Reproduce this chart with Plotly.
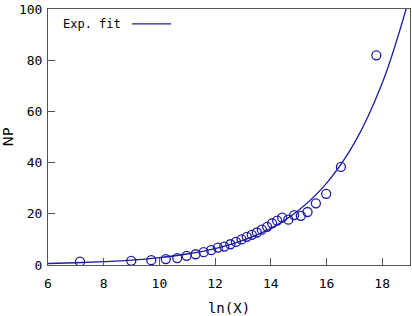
import plotly.graph_objects as go

# measured points (ln(X), NP)
ln_x = [7.15, 8.99, 9.71, 10.23, 10.64, 10.98, 11.30, 11.59, 11.86, 12.10,
        12.33, 12.55, 12.75, 12.95, 13.14, 13.32, 13.50, 13.68, 13.87, 14.05,
        14.23, 14.41, 14.63, 14.84, 15.08, 15.32, 15.62, 15.99, 16.52, 17.79]
np_vals = [1.3, 1.65, 1.9, 2.3, 2.7, 3.6, 4.2, 5.0, 5.8, 6.8,
           7.2, 8.1, 9.0, 10.0, 11.0, 11.8, 12.7, 13.8, 14.9, 16.3,
           17.3, 18.5, 17.7, 19.5, 19.2, 20.7, 24.1, 27.8, 38.3, 81.9]

# exponential fit curve
fit_x = [6, 7, 8, 9, 10, 11, 12, 13, 14, 15, 16, 17, 18, 18.86, 19.0]
fit_y = [0.58, 0.87, 1.3, 1.9, 2.9, 4.3, 6.4, 9.6, 14.3, 21.4, 31.9, 47.6, 71.0, 100, 106]

blue = '#1c1ca6'
axis_col = '#555555'
font = "DejaVu Sans Mono"

fig = go.Figure()

fig.add_trace(go.Scatter(
    x=fit_x, y=fit_y, mode='lines', name='Exp. fit',
    line=dict(color=blue, width=1.3, shape='spline'),
    showlegend=False
))

fig.add_trace(go.Scatter(
    x=ln_x, y=np_vals, mode='markers', name='data',
    marker=dict(symbol='circle-open', size=9, color=blue, line=dict(width=1.3, color=blue)),
    showlegend=False
))

fig.update_xaxes(
    range=[6, 19], tickvals=[6, 8, 10, 12, 14, 16, 18],
    ticks='inside', ticklen=7, tickcolor=axis_col,
    showline=True, linecolor=axis_col, linewidth=1, mirror=True,
    showgrid=False, zeroline=False, ticklabelstandoff=6,
    tickfont=dict(family=font, size=13, color='black'),
    title=dict(text='ln(X)', font=dict(family=font, size=14, color='black'), standoff=14)
)
fig.update_yaxes(
    range=[0, 100], tickvals=[0, 20, 40, 60, 80, 100],
    ticks='inside', ticklen=7, tickcolor=axis_col,
    showline=True, linecolor=axis_col, linewidth=1, mirror=True,
    showgrid=False, zeroline=False, ticklabelstandoff=2,
    tickfont=dict(family=font, size=13, color='black'),
    title=dict(text='NP', font=dict(family="DejaVu Sans", size=14, color='black'), standoff=6)
)

# gnuplot-style key: text on the left, line sample on the right
fig.add_annotation(
    x=0.207, y=0.942, xref='paper', yref='paper', xanchor='right', yanchor='middle',
    text='Exp. fit', showarrow=False, font=dict(family=font, size=12, color='black')
)
fig.add_shape(
    type='line', xref='paper', yref='paper', x0=0.232, x1=0.340, y0=0.942, y1=0.942,
    line=dict(color=blue, width=1.3)
)

fig.update_layout(
    width=412, height=316,
    margin=dict(l=48, r=2, t=9, b=51, autoexpand=False),
    plot_bgcolor='white', paper_bgcolor='white',
)

fig.write_html("out.html", config={'displayModeBar': False},
               post_script="document.body.style.margin='0';")
